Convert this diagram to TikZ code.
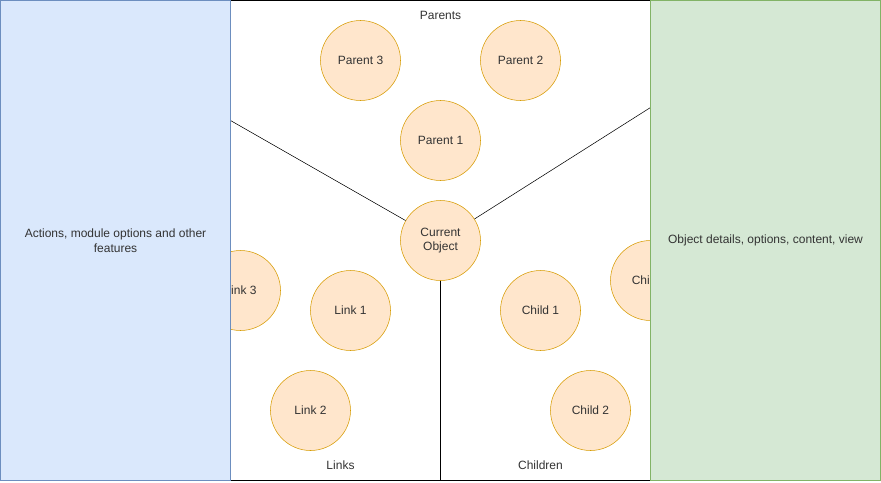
\documentclass[tikz,border=0pt]{standalone}
\usepackage{fontspec}
\setmainfont{Liberation Sans}
\definecolor{blueFill}{HTML}{DAE8FC}
\definecolor{blueLine}{HTML}{6C8EBF}
\definecolor{greenFill}{HTML}{D5E8D4}
\definecolor{greenLine}{HTML}{82B366}
\definecolor{orangeFill}{HTML}{FFE6CC}
\definecolor{orangeLine}{HTML}{D79B00}
\definecolor{textGrey}{HTML}{333333}
\begin{document}
\begin{tikzpicture}[x=0.75pt,y=-0.75pt,
  obj/.style={circle,draw=orangeLine,fill=orangeFill,minimum size=60pt,inner sep=0pt,
    align=center,font=\fontsize{9}{11}\selectfont,text=textGrey},
  lbl/.style={font=\fontsize{9}{11}\selectfont,text=textGrey,align=center}]
\useasboundingbox (-0.5,-0.5) rectangle (880.5,481.5);
\draw[fill=white] (230,0) rectangle (650,480);

\coordinate (leftEnd) at (230,120);
\coordinate (rightEnd) at (650,107);
\coordinate (bottomEnd) at (440,480);

\node[obj] (cur) at (440,240) {Current\\Object};
\node[obj] (par3) at (360,60) {Parent 3};
\node[obj] (par2) at (520,60) {Parent 2};
\node[obj] (par1) at (440,140) {Parent 1};
\node[obj] (link3) at (240,290) {Link 3};
\node[obj] (link1) at (350,310) {Link 1};
\node[obj] (link2) at (310,410) {Link 2};
\node[obj] (child1) at (540,310) {Child 1};
\node[obj] (child2) at (590,410) {Child 2};
\node[obj] (child3) at (650,280) {Child 3};

\draw (leftEnd) -- (cur);
\draw (rightEnd) -- (cur);
\draw (cur) -- (bottomEnd);

\node[lbl] (parents) at (440,15) {Parents};
\node[lbl] (links) at (340,465) {Links};
\node[lbl] (children) at (540,465) {Children};

% side panels
\draw[draw=blueLine,fill=blueFill] (0,0) rectangle (230,480);
\draw[draw=greenLine,fill=greenFill] (650,0) rectangle (880,480);
\node[lbl] (actions) at (115,240) {Actions, module options and other\\features};
\node[lbl] (details) at (765,240) {Object details, options, content, view};
\end{tikzpicture}
\end{document}
